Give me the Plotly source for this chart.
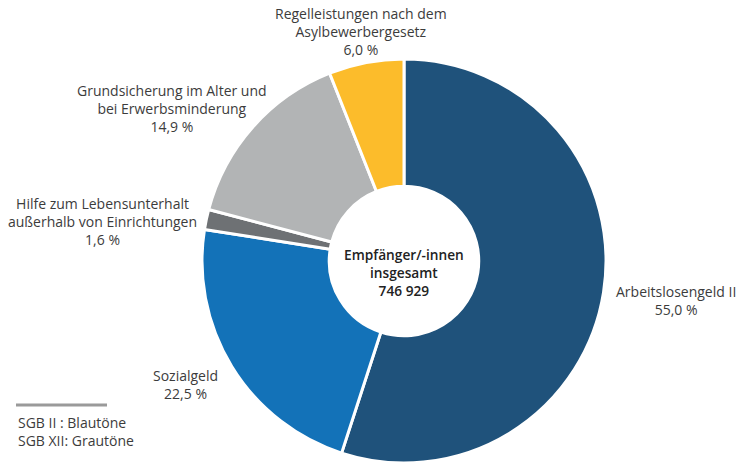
import plotly.graph_objects as go

labels = ["Arbeitslosengeld II", "Sozialgeld", "Hilfe zum Lebensunterhalt außerhalb von Einrichtungen",
          "Grundsicherung im Alter und bei Erwerbsminderung", "Regelleistungen nach dem Asylbewerbergesetz"]
values = [55.0, 22.5, 1.6, 14.9, 6.0]
colors = ["#1f527b", "#1372b8", "#6e7174", "#b2b4b5", "#fcbc2b"]
label_texts = [
    "Arbeitslosengeld II<br>55,0 %",
    "Sozialgeld<br>22,5 %",
    "Hilfe zum Lebensunterhalt<br>außerhalb von Einrichtungen<br>1,6 %",
    "Grundsicherung im Alter und<br>bei Erwerbsminderung<br>14,9 %",
    "Regelleistungen nach dem<br>Asylbewerbergesetz<br>6,0 %",
]
label_pos = [(676, 300), (185, 384), (102, 221), (172, 109), (361, 32)]
center_text = "Empfänger/-innen<br>insgesamt<br>746 929"
legend_lines = ["SGB II : Blautöne", "SGB XII: Grautöne"]

W, H = 739, 463
cx, top, r = 404, 59, 202

fig = go.Figure(go.Pie(
    labels=labels, values=values, sort=False, direction="clockwise", rotation=0,
    hole=0.37, textinfo="none", hoverinfo="label+percent",
    marker=dict(colors=colors, line=dict(color="white", width=3)),
    domain=dict(x=[(cx - r) / W, (cx + r) / W], y=[(H - top - 2 * r) / H, (H - top) / H]),
    showlegend=False,
))

font = dict(family="Open Sans, Noto Sans, sans-serif", size=14, color="#3c3c3c")
ann = []
for t, (x, y) in zip(label_texts, label_pos):
    ann.append(dict(text=t, x=x / W, y=1 - y / H, xref="paper", yref="paper",
                    showarrow=False, xanchor="center", yanchor="middle", font=font))
ann.append(dict(text=center_text, x=404 / W, y=1 - 272 / H, xref="paper", yref="paper",
                showarrow=False, xanchor="center", yanchor="middle",
                font=dict(family="Open Sans, Noto Sans, sans-serif", size=13.7, color="#222222",
                          weight=600)))
ann.append(dict(text="<br>".join(legend_lines), x=16 / W, y=1 - 431 / H, xref="paper", yref="paper",
                showarrow=False, xanchor="left", yanchor="middle", align="left", font=font))

fig.update_layout(
    width=W, height=H, margin=dict(l=0, r=0, t=0, b=0),
    paper_bgcolor="white", plot_bgcolor="white",
    annotations=ann,
    shapes=[dict(type="line", xref="paper", yref="paper", x0=16 / W, x1=107 / W,
                 y0=1 - 405 / H, y1=1 - 405 / H, line=dict(color="#9a9a9a", width=3))],
)
fig.write_html("out.html", config={"displayModeBar": False},
               post_script="document.body.style.margin='0';document.body.style.overflow='hidden';")
